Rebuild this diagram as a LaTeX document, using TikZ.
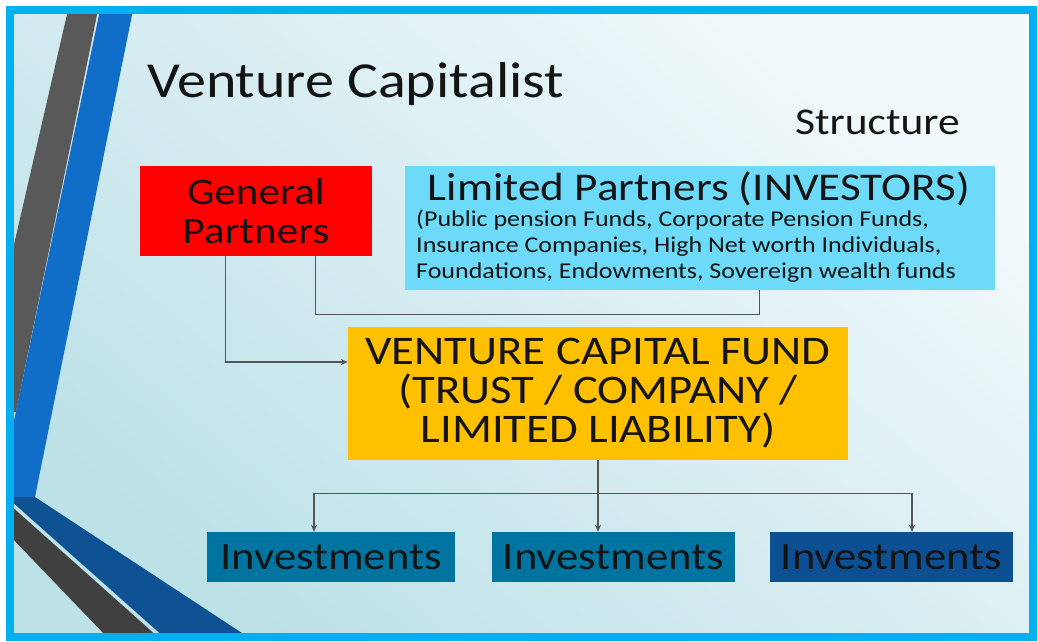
\documentclass[tikz,border=0pt]{standalone}
\usepackage{fontspec}
\setmainfont{Carlito}[FakeStretch=1.15]
\usetikzlibrary{arrows.meta,calc}
\definecolor{frameCyan}{RGB}{0,176,240}
\definecolor{bgLight}{RGB}{242,249,251}
\definecolor{bgDark}{RGB}{188,225,231}
\definecolor{barGray}{RGB}{89,89,89}
\definecolor{barBlue}{RGB}{16,110,200}
\definecolor{bandBlue}{RGB}{14,82,148}
\definecolor{bandGray}{RGB}{64,64,64}
\definecolor{gpRed}{RGB}{255,0,0}
\definecolor{lpBlue}{RGB}{108,218,248}
\definecolor{vcOrange}{RGB}{255,192,0}
\definecolor{invTeal}{RGB}{0,116,160}
\definecolor{invNavy}{RGB}{13,79,147}
\definecolor{linkGray}{RGB}{85,85,85}
\definecolor{inkBlack}{RGB}{20,20,20}

\begin{document}
\begin{tikzpicture}[
  x=1pt, y=-1pt,
  box/.style={draw=none, inner sep=0pt, text=inkBlack, align=center},
  invbox/.style={box, minimum width=243pt, minimum height=50pt,
                 font=\fontsize{38.8}{42}\selectfont},
  link/.style={draw=linkGray, line width=1.1pt},
  arr/.style={link, -{Stealth[length=7pt, width=6pt]}},
]

\useasboundingbox (0,0) rectangle (1038,641);

% ---------- slide background ----------
\fill[white] (0,0) rectangle (1038,641);
\shade[top color=bgLight, bottom color=bgDark, shading angle=-40]
  (10,10) rectangle (1033,637);

% ---------- left decoration bars ----------
\fill[barGray] (68,10) -- (98,10) -- (16,412) -- (10,412) -- (10,262) -- cycle;
\fill[barBlue] (100,10) -- (133,10) -- (35,497) -- (10,497) -- (10,440) -- cycle;
\fill[bandBlue] (10,497) -- (35,497) -- (248,637) -- (164,637) -- (10,500) -- cycle;
\fill[bandGray] (10,505) -- (158,637) -- (107,637) -- (10,536) -- cycle;

% ---------- frame ----------
\draw[frameCyan, line width=8pt] (10,10) rectangle (1033,637);

% ---------- titles ----------
\node[anchor=base west, inner sep=0pt, text=inkBlack,
      font=\fontsize{50.4}{56}\selectfont] (title) at (147,97) {Venture Capitalist};
\node[anchor=base west, inner sep=0pt, text=inkBlack,
      font=\fontsize{37.8}{42}\selectfont] (subtitle) at (795,134) {Structure};

% ---------- partners ----------
\node[box, fill=gpRed, minimum width=232pt, minimum height=90pt,
      font=\fontsize{37.5}{39}\selectfont] (gp) at (256,211) {General\\Partners};
\node[box, fill=lpBlue, minimum width=590pt, minimum height=124pt] (lp) at (700,228) {};
\node[inner sep=0pt, text=inkBlack, font=\fontsize{39.3}{44}\selectfont]
  (lptitle) at (699,189) {Limited Partners (INVESTORS)};
\node[anchor=north west, inner sep=0pt, text=inkBlack, align=left,
      font=\fontsize{22.6}{26}\selectfont] (lpfunds) at (416,210)
  {(Public pension Funds, Corporate Pension Funds,\\
   Insurance Companies, High Net worth Individuals,\\
   Foundations, Endowments, Sovereign wealth funds};

% ---------- fund ----------
\node[box, fill=vcOrange, minimum width=500pt, minimum height=133pt,
      font=\fontsize{40.6}{39}\selectfont] (vcf) at (598,393.5)
  {VENTURE CAPITAL FUND\\(TRUST / COMPANY /\\LIMITED LIABILITY)};

% ---------- investments ----------
\node[invbox, fill=invTeal, minimum width=248pt] (inv1) at (331,557) {Investments};
\node[invbox, fill=invTeal] (inv2) at (613.5,557) {Investments};
\node[invbox, fill=invNavy] (inv3) at (891.5,557) {Investments};

% ---------- connectors ----------
\draw[arr] ([xshift=86pt]gp.south west) |- ([yshift=31.5pt]vcf.west);
\draw[link] ([xshift=176pt]gp.south west) -- ++(0,58) -| ([xshift=355pt]lp.south west);
\coordinate (split) at ($(vcf.south)+(0,33)$);
\draw[arr] (vcf.south) -- (vcf.south |- inv2.north);
\draw[arr] (split) -| ([xshift=-17pt]inv1.north);
\draw[arr] (split) -| ([xshift=20.5pt]inv3.north);

\end{tikzpicture}
\end{document}
